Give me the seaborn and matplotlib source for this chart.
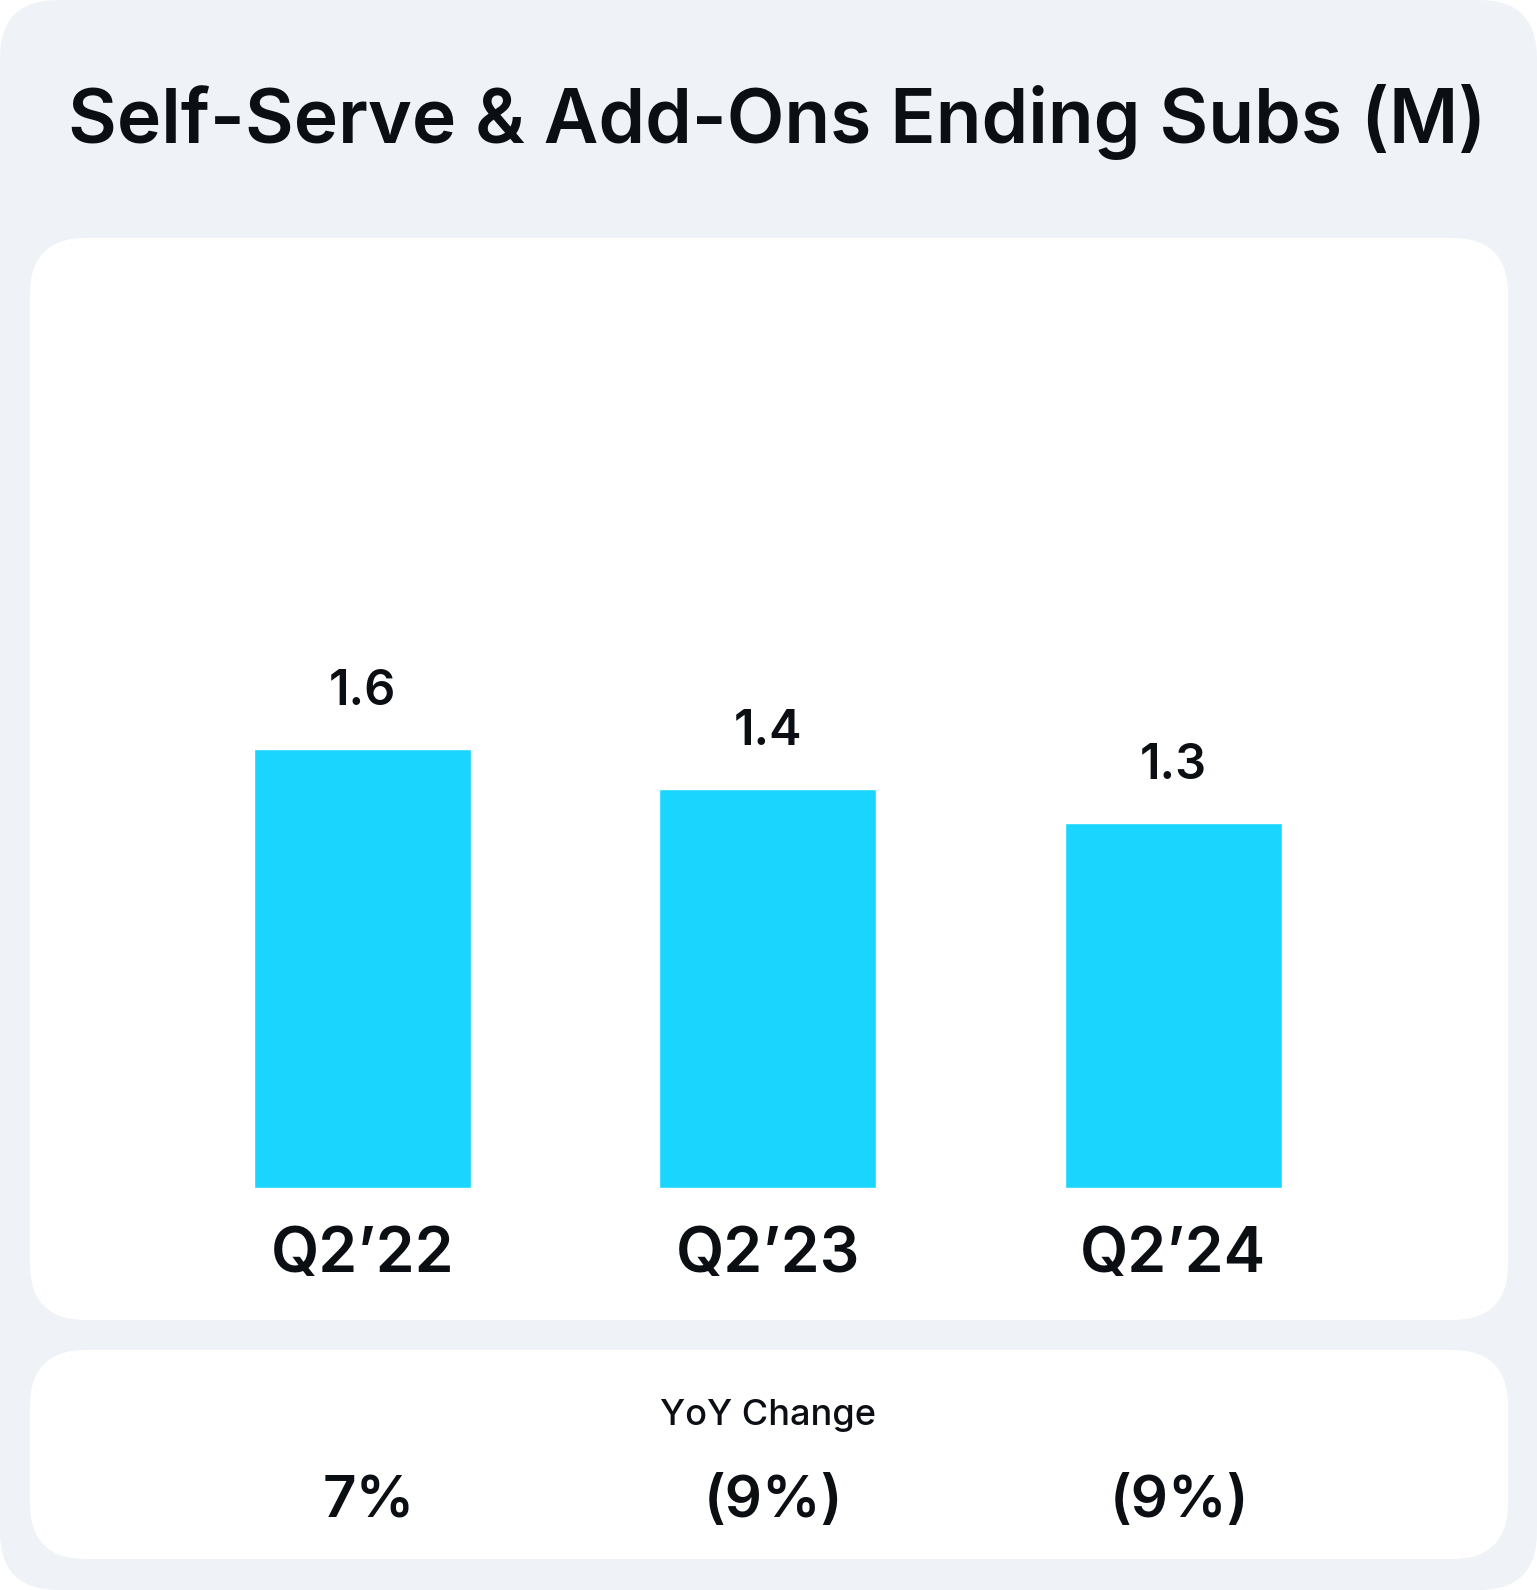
import matplotlib
matplotlib.use("Agg")
import matplotlib.pyplot as plt
from matplotlib.patches import FancyBboxPatch
from matplotlib.transforms import IdentityTransform, blended_transform_factory
import seaborn as sns

# ─── Data ─────────────────────────────────────────────────────────────────────
quarters = ["Q2\u201922", "Q2\u201923", "Q2\u201924"]
subs_m = [1.60, 1.455, 1.33]          # bar heights
subs_labels = ["1.6", "1.4", "1.3"]   # labels as printed
yoy_labels = ["7%", "(9%)", "(9%)"]

TITLE = "Self-Serve & Add-Ons Ending Subs (M)"
BAR = "#1AD6FE"
INK = "#0B0E13"
CARD_BG = "#EFF3F8"

W, H, DPI = 1537, 1590, 100

sns.set_theme(style="white")
plt.rcParams["font.family"] = ["Inter", "DejaVu Sans"]

fig = plt.figure(figsize=(W / DPI, H / DPI), dpi=DPI, facecolor="white")


def card(x0, y0, x1, y1, color, r=56):
    # box in pixels, measured from the top-left corner
    p = FancyBboxPatch((x0, H - y1), x1 - x0, y1 - y0,
                       boxstyle=f"round,pad=0,rounding_size={r}",
                       transform=IdentityTransform(), facecolor=color,
                       edgecolor="none", zorder=0)
    fig.add_artist(p)


card(0, 0, W, H, CARD_BG, r=58)
card(30, 238, 1508, 1320, "white")
card(30, 1350, 1508, 1559, "white")

# ─── Bars ─────────────────────────────────────────────────────────────────────
ax = fig.add_axes([159.5 / W, (H - 1188) / H, 1216.5 / W, 494 / H])
ax.set_facecolor("none")
sns.barplot(x=quarters, y=subs_m, color=BAR, saturation=1, width=0.535, ax=ax)
ax.set_xlim(-0.5, 2.5)
ax.set_ylim(0, 1.8)
sns.despine(ax=ax, left=True, bottom=True)
ax.set_yticks([])
ax.set_xlabel("")
ax.set_ylabel("")
ax.tick_params(axis="x", length=0, pad=27, labelsize=45, colors=INK)
for lbl in ax.get_xticklabels():
    lbl.set_fontweight("semibold")

for i, (v, s) in enumerate(zip(subs_m, subs_labels)):
    ax.annotate(s, (i, v), xytext=(0, 41), textcoords="offset points",
                ha="center", va="center", fontsize=35, color=INK,
                fontweight="semibold")

# ─── YoY strip ────────────────────────────────────────────────────────────────
tr = blended_transform_factory(ax.transData, fig.transFigure)
ax.text(1, 1 - 1416 / H, "YoY Change", transform=tr, ha="center", va="center",
        fontsize=26, color=INK, fontweight="medium")
for i, s in enumerate(yoy_labels):
    ax.text(i + 0.015, 1 - 1502 / H, s, transform=tr, ha="center", va="center",
            fontsize=42, color=INK, fontweight="semibold")

# ─── Title, sized to span the measured width ─────────────────────────────────
title = fig.text(777 / W, 1 - 122 / H, TITLE, ha="center", va="center",
                 fontsize=60, color=INK, fontweight="semibold")
fig.canvas.draw()
width = title.get_window_extent().width
title.set_fontsize(60 * 1420 / width)

fig.savefig("out.png", dpi=DPI, facecolor="white")
